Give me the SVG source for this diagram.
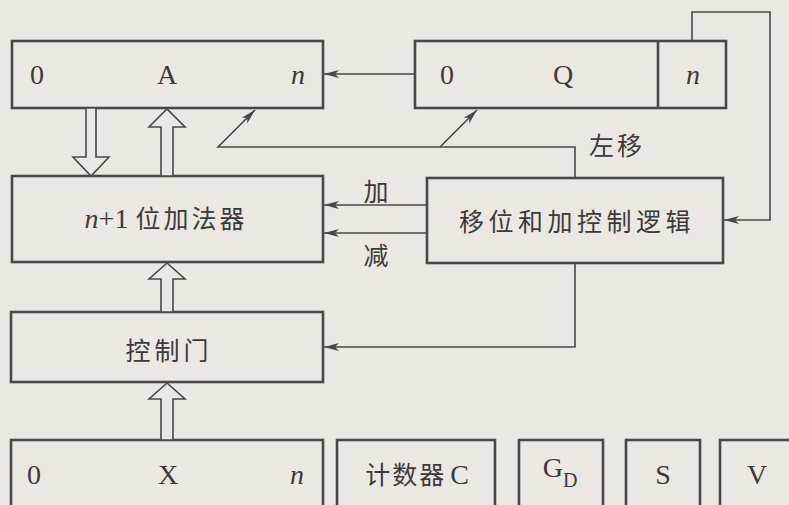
<svg xmlns="http://www.w3.org/2000/svg" width="789" height="505" viewBox="0 0 789 505">
<style>
.box{fill:none;stroke:#4a4846;stroke-width:2.6}
.conn{fill:none;stroke:#4a4846;stroke-width:1.6}
.hollow{fill:#ebe8e3;stroke:#4a4846;stroke-width:1.6;stroke-linejoin:miter}
.lat{font-family:"Liberation Serif","Noto Sans CJK SC",serif;font-size:28px;fill:#3c3a38;text-anchor:middle}
.it{font-style:italic}
.cjk{font-family:"Liberation Serif","Noto Sans CJK SC",serif;font-size:25px;fill:#3c3a38;text-anchor:middle;dominant-baseline:central}
</style>
<defs>
<marker id="ah" markerUnits="userSpaceOnUse" markerWidth="16" markerHeight="10" refX="15" refY="4" orient="auto">
<path d="M0,0 L15,4 L0,8 L4,4 Z" fill="#4a4846"/>
</marker>
</defs>
<rect width="789" height="505" fill="#ebe8e3"/>

<g id="regA">
<rect class="box" x="12" y="41" width="311" height="67"/>
<text class="lat" x="37" y="84">0</text>
<text class="lat" x="167" y="84">A</text>
<text class="lat it" x="298" y="84">n</text>
</g>

<g id="regQ">
<rect class="box" x="415" y="41" width="311" height="67"/>
<line class="box" x1="658" y1="41" x2="658" y2="108"/>
<text class="lat" x="447" y="84">0</text>
<text class="lat" x="563" y="84">Q</text>
<text class="lat it" x="693" y="84">n</text>
</g>

<g id="adder">
<rect class="box" x="12" y="176" width="311" height="86"/>
<text class="lat" x="166" y="228"><tspan class="it">n</tspan>+1<tspan font-size="25" dx="7" letter-spacing="3">位加法器</tspan></text>
</g>

<g id="ctrlLogic">
<rect class="box" x="427" y="178" width="296" height="85"/>
<text class="cjk" x="577" y="222" letter-spacing="4.5">移位和加控制逻辑</text>
</g>

<g id="ctrlGate">
<rect class="box" x="11" y="312" width="312" height="70"/>
<text class="cjk" x="169" y="351" letter-spacing="4">控制门</text>
</g>

<g id="regX">
<rect class="box" x="11" y="440" width="312" height="75"/>
<text class="lat" x="34" y="484">0</text>
<text class="lat" x="168" y="484">X</text>
<text class="lat it" x="297" y="484">n</text>
</g>

<g id="counterC">
<rect class="box" x="337" y="440" width="158" height="75"/>
<text class="lat" x="417" y="484"><tspan font-size="25" letter-spacing="2">计数器</tspan><tspan dx="4">C</tspan></text>
</g>

<g id="GD">
<rect class="box" x="519" y="440" width="84" height="75"/>
<text class="lat" x="560" y="477">G<tspan font-size="20" dy="10">D</tspan></text>
</g>

<g id="S">
<rect class="box" x="626" y="440" width="74" height="75"/>
<text class="lat" x="663" y="484">S</text>
</g>

<g id="V">
<rect class="box" x="720" y="440" width="80" height="75"/>
<text class="lat" x="757" y="484">V</text>
</g>

<g id="connectors">
<line class="conn" x1="415" y1="74" x2="324" y2="74" marker-end="url(#ah)"/>
<polyline class="conn" points="692,41 692,12 770,12 770,220 724,220" marker-end="url(#ah)"/>
<polyline class="conn" points="575,178 575,147 218,147 255,110" marker-end="url(#ah)"/>
<polyline class="conn" points="440,147 477,110" marker-end="url(#ah)"/>
<line class="conn" x1="427" y1="205" x2="324" y2="205" marker-end="url(#ah)"/>
<line class="conn" x1="427" y1="233" x2="324" y2="233" marker-end="url(#ah)"/>
<polyline class="conn" points="575,263 575,347 324,347" marker-end="url(#ah)"/>
<polygon class="hollow" points="86,108 96,108 96,157 109,157 91,176 73,157 86,157"/>
<polygon class="hollow" points="161,176 173,176 173,127 185,127 167,109 149,127 161,127"/>
<polygon class="hollow" points="161,312 173,312 173,279 185,279 167,263 149,279 161,279"/>
<polygon class="hollow" points="161,440 173,440 173,399 185,399 167,383 149,399 161,399"/>
<text class="cjk" x="617" y="146" letter-spacing="3">左移</text>
<text class="cjk" x="376" y="192">加</text>
<text class="cjk" x="376" y="256">减</text>
</g>
</svg>
